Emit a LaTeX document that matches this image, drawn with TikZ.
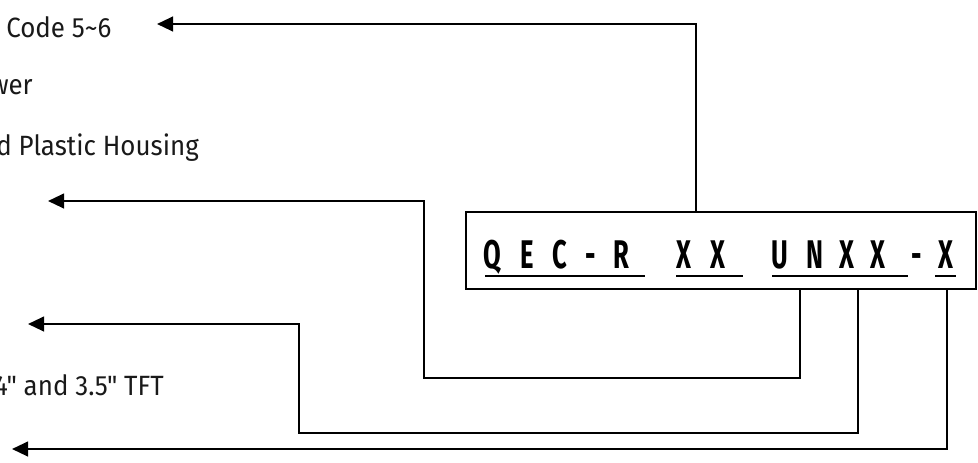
\documentclass[tikz,border=0pt]{standalone}
\usepackage{fontspec}
\setmainfont{Fira Sans}
\newfontfamily\labelfont[FakeStretch=0.93]{Fira Sans}
\newfontfamily\partfont[FakeStretch=0.64]{Fira Sans}
\usetikzlibrary{arrows.meta}
\begin{document}
\begin{tikzpicture}[x=0.75pt,y=-0.75pt,
  conn/.style={line width=1.6pt, -{Triangle[length=12pt,width=11pt]}},
  partbox/.style={draw, line width=1.5pt, minimum width=382.5pt, minimum height=57.75pt, inner sep=0pt},
  lbl/.style={font=\labelfont\fontsize{20.9}{24}\selectfont, inner sep=0pt, text=black!90},
  ch/.style={font=\partfont\bfseries\fontsize{30}{34}\selectfont, inner sep=0pt, anchor=base},
  uline/.style={line width=1.5pt}]
\useasboundingbox (0,0) rectangle (978,462);
\clip (0,0) rectangle (978,462);

% part-number box
\node[partbox] (box) at (721,250.5) {};
\foreach \c/\x [count=\i] in {Q/492.5, E/527, C/560, -/591, R/621,
    X/684, X/717.5, U/780, N/814.5, X/846.5, X/878, -/917, X/945.5}
  \node[ch] (ch\i) at (\x,268) {\c};

% underlined code groups
\draw[uline] (485,276) -- (645,276);
\draw[uline] (676,276) -- (743,276);
\draw[uline] (772,276) -- (908,276);
\draw[uline] (935,276) -- (956,276);

% field descriptions
\node[lbl, anchor=base west] (l1) at (6,37) {Code 5\textasciitilde 6};
\node[lbl, anchor=base east] (l2) at (33,94) {wer};
\node[lbl, anchor=base east] (l3) at (199,155) {d Plastic Housing};
\node[lbl, anchor=base east] (l4) at (164,395) {4" and 3.5" TFT};

% connector columns and bends
\coordinate (x1) at (696,0);
\coordinate (x2) at (800,0);
\coordinate (x3) at (858,0);
\coordinate (x4) at (947,0);
\coordinate (c2) at (424,378);
\coordinate (c3) at (299,433);
\coordinate (tip1) at (157,24);
\coordinate (tip2) at (48,201);
\coordinate (tip3) at (28,324);
\coordinate (tip4) at (12,449);

\draw[conn] (box.north -| x1) |- (tip1);
\draw[conn] (box.south -| x2) |- (c2) |- (tip2);
\draw[conn] (box.south -| x3) |- (c3) |- (tip3);
\draw[conn] (box.south -| x4) |- (tip4);
\end{tikzpicture}
\end{document}
